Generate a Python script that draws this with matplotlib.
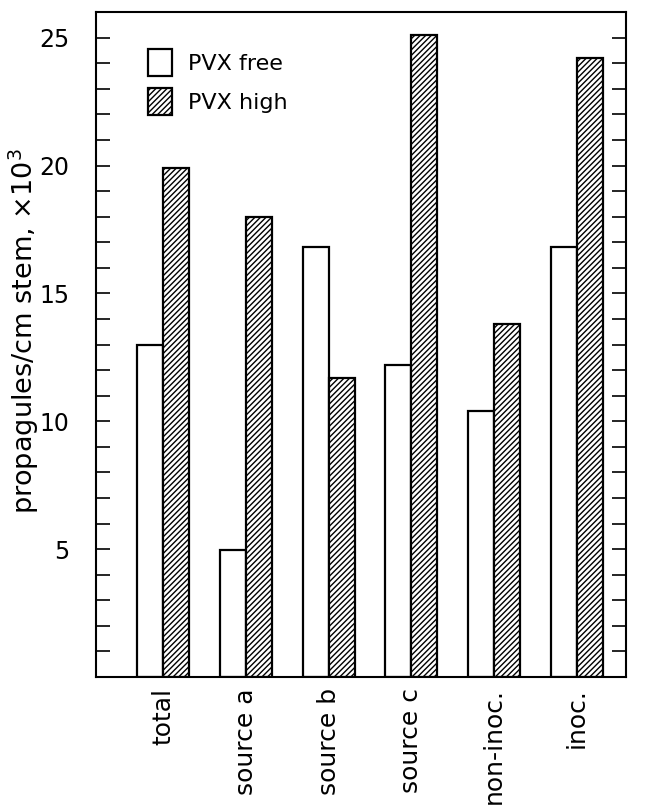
import numpy as np
import matplotlib
matplotlib.use('Agg')
from matplotlib import pyplot as plt
from matplotlib.ticker import MultipleLocator

categories = ['total', 'source a', 'source b', 'source c', 'non-inoc.', 'inoc.']
pvx_free = [13.0, 4.95, 16.8, 12.2, 10.4, 16.8]
pvx_high = [19.9, 18.0, 11.7, 25.1, 13.8, 24.2]

plt.rcParams['font.family'] = ['DejaVu Sans']
plt.rcParams['hatch.linewidth'] = 1.0

fig = plt.figure(figsize=(6.45, 8.05), dpi=100)
ax = fig.add_axes([0.149, 0.159, 0.821, 0.826])

x = np.arange(len(categories))
w = 0.315
ax.bar(x - w / 2, pvx_free, width=w, facecolor='white', edgecolor='black',
       linewidth=1.6, label='PVX free')
ax.bar(x + w / 2, pvx_high, width=w, facecolor='white', edgecolor='black',
       linewidth=1.6, hatch='//////', label='PVX high')

ax.set_xlim(-0.81, 5.59)
ax.set_ylim(0, 26)

ax.set_xticks(x)
ax.set_xticklabels(categories, rotation=90, fontsize=18)
ax.tick_params(axis='x', length=0, pad=8)

ax.yaxis.set_major_locator(MultipleLocator(5))
ax.yaxis.set_minor_locator(MultipleLocator(1))
ax.set_yticks([5, 10, 15, 20, 25])
ax.tick_params(axis='y', which='both', direction='in', length=10, width=1.2,
               left=True, right=True, labelsize=17, pad=19)
ax.set_ylabel('propagules/cm stem, ×10$^3$', fontsize=19.5)
ax.yaxis.set_label_coords(-0.105, 0.52)

for s in ax.spines.values():
    s.set_linewidth(1.5)

ax.legend(loc='upper left', bbox_to_anchor=(0.06, 0.975), frameon=False,
          fontsize=16, handlelength=1.1, handleheight=1.5, labelspacing=0.55,
          handletextpad=0.7)

fig.savefig('out.png', dpi=100)
